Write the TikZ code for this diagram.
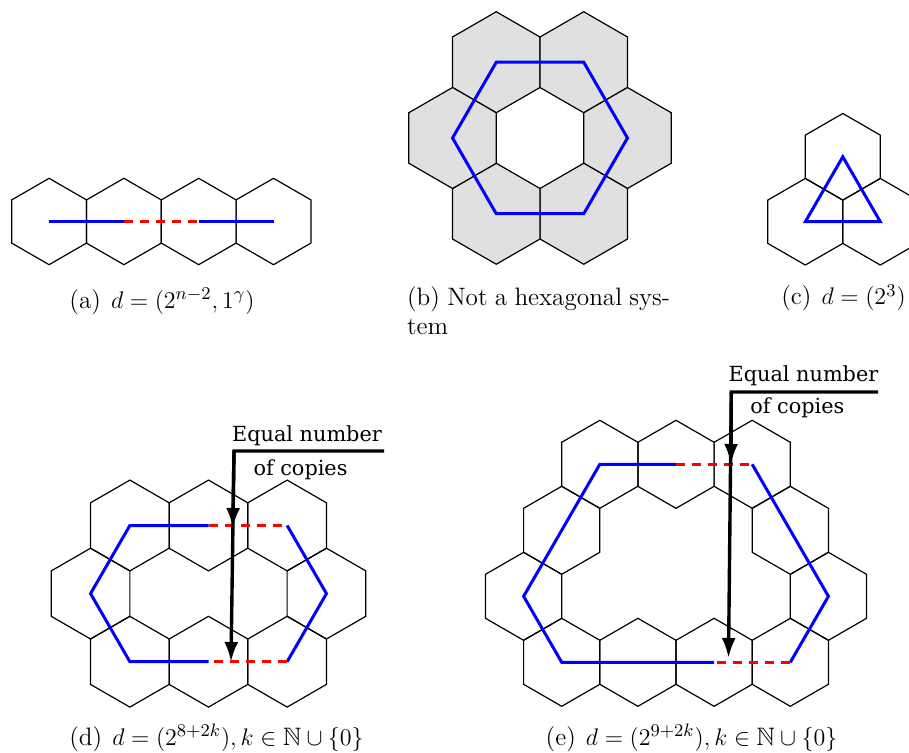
\documentclass[tikz,border=0pt]{standalone}
\usepackage{amssymb}
\usepackage{fontspec}
\newfontfamily\notefont{DejaVu Serif}
\usetikzlibrary{arrows.meta}
\tikzset{
  hexline/.style={draw=black, line width=0.6pt, line join=miter},
  hexfill/.style={hexline, fill=black!12},
  blueline/.style={blue, line width=1.5pt, line join=miter},
  redline/.style={red, line width=1.5pt, dash pattern=on 4.5pt off 3.5pt},
  callout/.style={black, line width=1.7pt, line join=miter},
  tipped/.style={callout, -{Latex[length=10pt,width=7pt]}},
  capt/.style={inner sep=0pt, font=\fontsize{12.6}{15}\selectfont},
  note/.style={inner sep=0pt, font=\notefont\fontsize{10.4}{12}\selectfont},
  pics/hexa/.style={code={\path[pic actions] (30:#1)--(90:#1)--(150:#1)--(210:#1)--(270:#1)--(330:#1)--cycle;}}
}
\begin{document}
\begin{tikzpicture}[x=0.5pt,y=-0.5pt]
\useasboundingbox (0,0) rectangle (909,753);
\clip (0,0) rectangle (909,753);

% ---------- (a)
\foreach \i in {0,...,3} \pic[hexline] at ({49.1+74.8*\i},221.5) {hexa=43.19};
\coordinate (a1) at (49.1,221.5);
\coordinate (a2) at (123.9,221.5);
\coordinate (a3) at (198.7,221.5);
\coordinate (a4) at (273.5,221.5);
\draw[blueline] (a1)--(a2);
\draw[redline] (a2)--(a3);
\draw[blueline] (a3)--(a4);
\node[capt, anchor=base] (capa) at (162,308) {(a)\hspace{5pt}$d=(2^{n-2},1^{\gamma})$};

% ---------- (b)
\coordinate (b1) at (496.26,62.25);
\coordinate (b2) at (583.74,62.25);
\coordinate (b3) at (627.47,138);
\coordinate (b4) at (583.74,213.75);
\coordinate (b5) at (496.26,213.75);
\coordinate (b6) at (452.53,138);
\foreach \c in {b1,b2,b3,b4,b5,b6} \pic[hexfill] at (\c) {hexa=50.5};
\draw[blueline] (b1)--(b2)--(b3)--(b4)--(b5)--(b6)--cycle;
\node[capt, anchor=base west] (capb) at (406.7,306) {\hbox to 131.5pt{(b) Not a hexagonal sys-}};
\node[capt, anchor=base west] (capb2) at (406.7,335) {tem};

% ---------- (c)
\coordinate (c1) at (842.8,156.8);
\coordinate (c2) at (805.3,221.75);
\coordinate (c3) at (880.3,221.75);
\foreach \c in {c1,c2,c3} \pic[hexline] at (\c) {hexa=43.3};
\draw[blueline] (c1)--(c2)--(c3)--cycle;
\node[capt, anchor=base] (capc) at (843.5,305) {(c)\hspace{5pt}$d=(2^{3})$};

% ---------- (d)
\coordinate (d1) at (129.86,525.5);
\coordinate (d2) at (208.5,525.5);
\coordinate (d3) at (287.14,525.5);
\coordinate (d4) at (326.46,593.6);
\coordinate (d5) at (287.14,661.7);
\coordinate (d6) at (208.5,661.7);
\coordinate (d7) at (129.86,661.7);
\coordinate (d8) at (90.54,593.6);
\foreach \c in {d1,d2,d3,d4,d5,d6,d7,d8} \pic[hexline] at (\c) {hexa=45.4};
\draw[blueline] (d2)--(d1)--(d8)--(d7)--(d6);
\draw[blueline] (d3)--(d4)--(d5);
\draw[redline] (d2)--(d3);
\draw[redline] (d5)--(d6);
\coordinate (dR) at (384,451);
\coordinate (dL) at (234,451);
\coordinate (dT1) at (232.8,528);
\coordinate (dT2) at (231,662);
\draw[tipped] (dR)--(dL)--(dT2);
\draw[tipped] (dL)--(dT1);
\node[note, anchor=base] (dn1) at (307,441.7) {Equal number};
\node[note, anchor=base] (dn2) at (300.5,475) {of copies};
\node[capt, anchor=base] (capd) at (216.5,745) {(d)\hspace{5pt}$d=(2^{8+2k}),k\in\mathbb{N}\cup\{0\}$};

% ---------- (e)
\coordinate (e1) at (599.8,464.3);
\coordinate (e2) at (676,464.3);
\coordinate (e3) at (752.2,464.3);
\coordinate (e4) at (561.7,530.3);
\coordinate (e5) at (790.3,530.3);
\coordinate (e6) at (523.6,596.3);
\coordinate (e7) at (828.4,596.3);
\coordinate (e8) at (561.7,662.3);
\coordinate (e9) at (637.9,662.3);
\coordinate (e10) at (714.1,662.3);
\coordinate (e11) at (790.3,662.3);
\foreach \c in {e1,e2,e3,e4,e5,e6,e7,e8,e9,e10,e11} \pic[hexline] at (\c) {hexa=44};
\draw[blueline] (e2)--(e1)--(e6)--(e8)--(e10);
\draw[blueline] (e3)--(e7)--(e11);
\draw[redline] (e2)--(e3);
\draw[redline] (e11)--(e10);
\coordinate (eR) at (878,392);
\coordinate (eL) at (731.3,392);
\coordinate (eT1) at (731,464);
\coordinate (eT2) at (728.5,658);
\draw[tipped] (eR)--(eL)--(eT2);
\draw[tipped] (eL)--(eT1);
\node[note, anchor=base] (en1) at (803.5,381) {Equal number};
\node[note, anchor=base] (en2) at (797.4,413.7) {of copies};
\node[capt, anchor=base] (cape) at (691.5,745) {(e)\hspace{5pt}$d=(2^{9+2k}),k\in\mathbb{N}\cup\{0\}$};
\end{tikzpicture}
\end{document}
